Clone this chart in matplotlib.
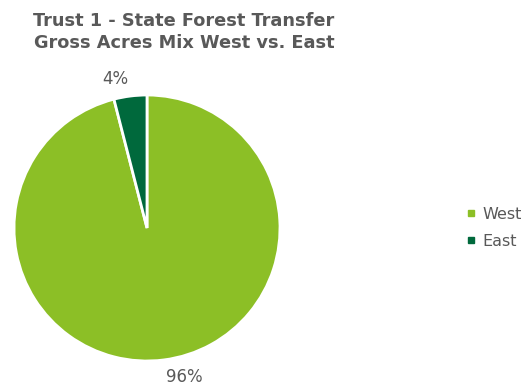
import matplotlib.pyplot as plt
from matplotlib.lines import Line2D

labels = ["West", "East"]
shares = [96, 4]
colors = ["#8cbf26", "#00693c"]
title = "Trust 1 - State Forest Transfer\nGross Acres Mix West vs. East"

fig = plt.figure(figsize=(5.22, 3.88), dpi=100)
ax = fig.add_axes([14 / 522, 27 / 388, 266 / 522, 266 / 388])

ax.pie(shares, colors=colors, startangle=90, counterclock=False,
       labels=[f"{s}%" for s in shares], labeldistance=1.13,
       wedgeprops=dict(edgecolor="white", linewidth=2),
       textprops=dict(color="#595959", fontsize=12))
ax.set_xlim(-1, 1)
ax.set_ylim(-1, 1)
ax.set_aspect("equal")

fig.text(184 / 522, 1 - 32 / 388, title, ha="center", va="center",
         fontsize=12.8, fontweight="bold", color="#595959", linespacing=1.35)

handles = [Line2D([], [], marker="s", linestyle="", markersize=5,
                  markerfacecolor=c, markeredgecolor=c) for c in colors]
fig.legend(handles, labels, loc="center left", bbox_to_anchor=(465 / 522, 1 - 228 / 388),
           frameon=False, fontsize=11.5, labelcolor="#595959", borderpad=0, borderaxespad=0,
           handletextpad=0.3, labelspacing=0.75, handlelength=0.8)

fig.savefig("out.png", dpi=100)
